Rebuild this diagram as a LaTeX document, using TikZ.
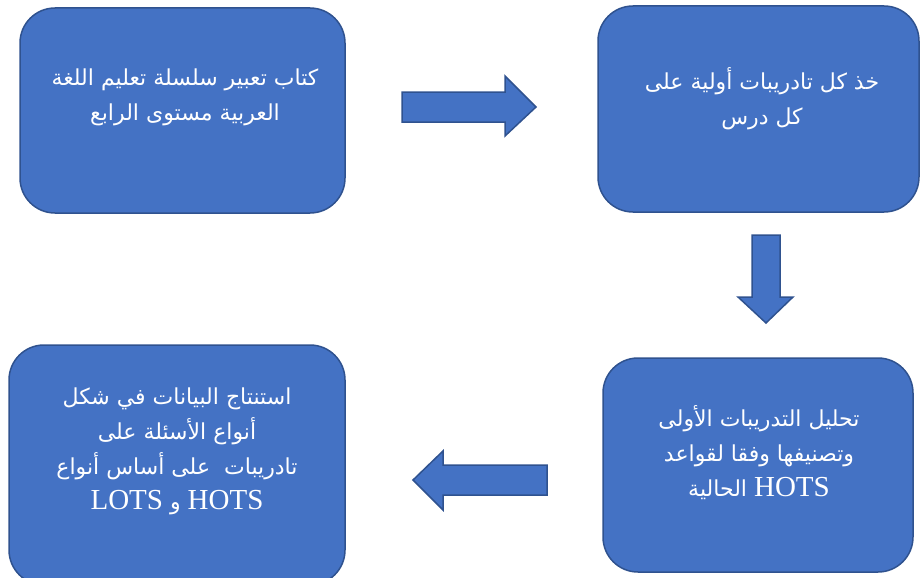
\documentclass[tikz,border=0pt]{standalone}
\usepackage{fontspec}
\newfontfamily\arabicfont[Script=Arabic]{DejaVu Sans}
\newfontfamily\latinfont{Liberation Serif}
\TeXXeTstate=1
\definecolor{boxfill}{HTML}{4472C4}
\definecolor{boxline}{HTML}{2F528F}
\tikzset{
  box/.style={draw=boxline, fill=boxfill, line width=1.5pt, rounded corners=35pt, inner sep=0pt},
  txt/.style={text=white, align=center, inner sep=0pt, font=\arabicfont\fontsize{22}{35}\selectfont},
  blockarrow/.style={draw=boxline, fill=boxfill, line width=1.5pt, line join=miter},
}
\newcommand{\lat}[1]{\beginL{\latinfont\fontsize{29}{35}\selectfont #1}\endL}
\begin{document}
\begin{tikzpicture}[x=1pt,y=-1pt]
\useasboundingbox (0,0) rectangle (921,578);
\clip (0,0) rectangle (921,578);
% boxes
\node[box, minimum width=325pt, minimum height=205pt] (b1) at (182.5,110.5) {};
\node[box, minimum width=321pt, minimum height=206pt] (b2) at (758.5,109) {};
\node[box, minimum width=310pt, minimum height=214pt] (b3) at (758,465) {};
\node[box, minimum width=336pt, minimum height=240pt] (b4) at (177,465) {};
% texts
\node[txt] (t1) at (185,97) {\beginR كتاب تعبير سلسلة تعليم اللغة\endR\\\beginR العربية مستوى الرابع\endR};
\node[txt] (t2) at (762,99) {\beginR خذ كل تادريبات أولية على\endR\\\beginR كل درس\endR};
\node[txt] (t3) at (759,453) {\beginR تحليل التدريبات الأولى\endR\\\beginR وتصنيفها وفقا لقواعد\endR\\\beginR \lat{HOTS} الحالية\endR};
\node[txt] (t4) at (177,451) {\beginR استنتاج البيانات في شكل\endR\\\beginR أنواع الأسئلة على\endR\\\beginR تادريبات \ على أساس أنواع\endR\\\beginR \lat{HOTS} و \lat{LOTS}\endR};
% block arrows
\draw[blockarrow] (402,92) -- (505,92) -- (505,76) -- (536,107) -- (505,136) -- (505,122) -- (402,122) -- cycle;
\draw[blockarrow] (752,235) -- (780,235) -- (780,297) -- (793,297) -- (766,323) -- (738,297) -- (752,297) -- cycle;
\draw[blockarrow] (547,465) -- (443,465) -- (443,451) -- (413,480) -- (443,510) -- (443,495) -- (547,495) -- cycle;
\end{tikzpicture}
\end{document}
